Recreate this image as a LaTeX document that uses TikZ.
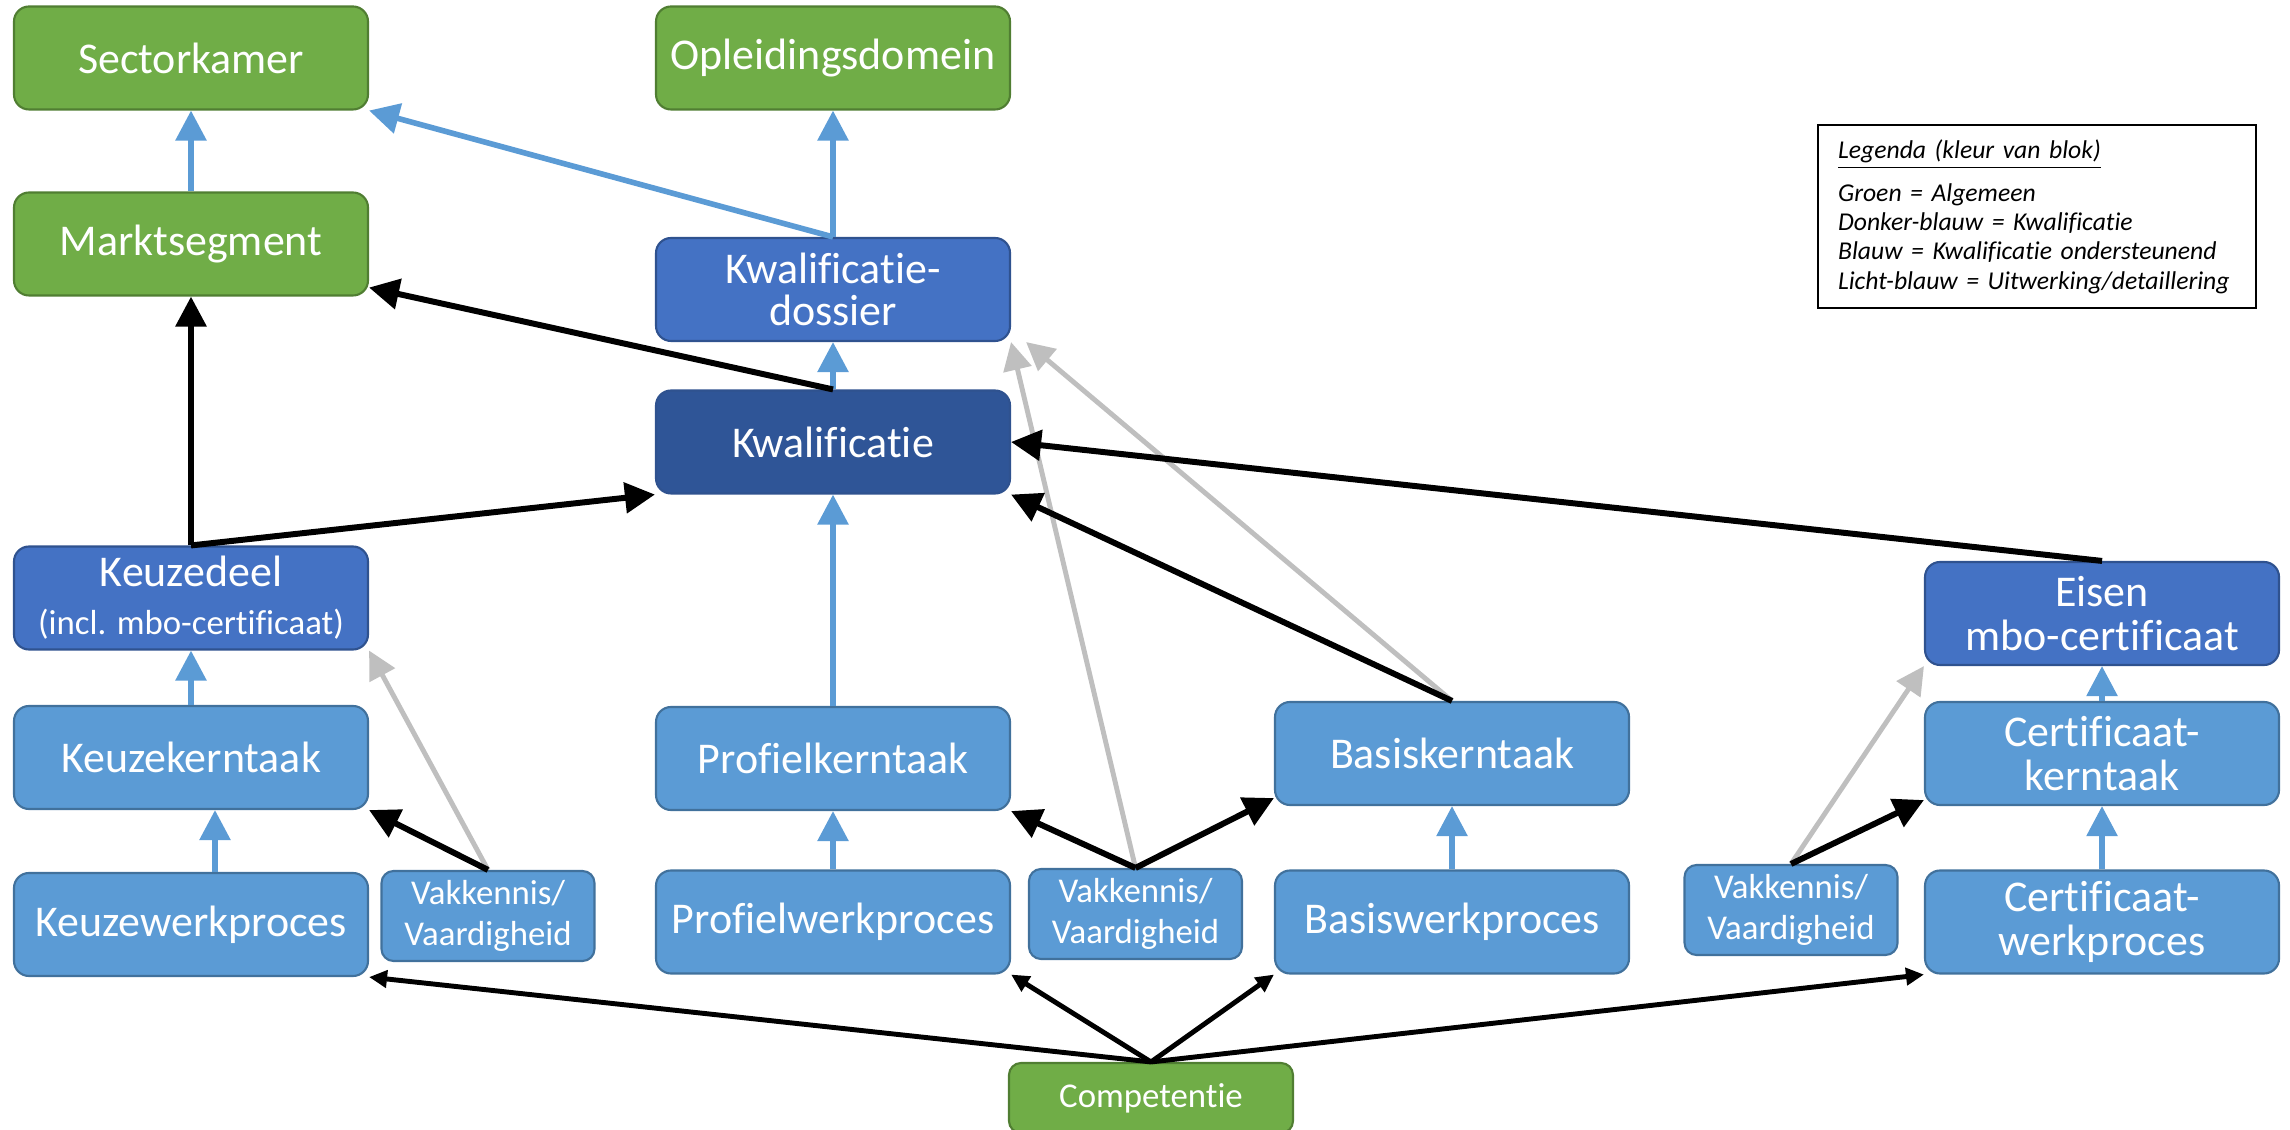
\documentclass[tikz,border=0pt]{standalone}
\usepackage{fontspec}
\setmainfont{Carlito}[Ligatures=CommonOff]
\usepackage{tikz}
\usetikzlibrary{arrows.meta,shapes,positioning}
\definecolor{groenvul}{HTML}{70AD47}
\definecolor{groenrand}{HTML}{507E32}
\definecolor{lichtvul}{HTML}{5B9BD5}
\definecolor{lichtrand}{HTML}{41719C}
\definecolor{middenvul}{HTML}{4472C4}
\definecolor{middenrand}{HTML}{2F528F}
\definecolor{donkervul}{HTML}{2F5597}
\definecolor{donkerrand}{HTML}{2F528F}
\definecolor{pijlblauw}{HTML}{5B9BD5}
\definecolor{pijlgrijs}{HTML}{BFBFBF}

\begin{document}
\begin{tikzpicture}[scale=1,
    blok/.style={rounded corners=0.15cm, line width=0.6pt, text=white, align=center, minimum width=3.54cm, minimum height=1.03cm, inner sep=0pt, font=\fontsize{12.5}{12.5}\selectfont},
    groen/.style={blok, fill=groenvul, draw=groenrand},
    licht/.style={blok, fill=lichtvul, draw=lichtrand},
    midden/.style={blok, fill=middenvul, draw=middenrand},
    donker/.style={blok, fill=donkervul, draw=donkerrand},
    klein/.style={minimum width=2.13cm, minimum height=0.9cm, rounded corners=0.12cm, font=\fontsize{9.9}{11.7}\selectfont},
    pb/.style={draw=pijlblauw, line width=1.6pt, -{Triangle[length=0.3cm,width=0.3cm]}},
    pz/.style={draw=black, line width=1.7pt, -{Triangle[length=0.3cm,width=0.3cm]}},
    pzk/.style={draw=black, line width=1.4pt, -{Triangle[length=0.18cm,width=0.17cm]}},
    pg/.style={draw=pijlgrijs, line width=1.4pt, -{Triangle[length=0.28cm,width=0.28cm]}}]
          \useasboundingbox (0,0) rectangle (22.9,-11.3);
          \node[groen] at (1.91,-0.58) (SK) {Sectorkamer};
          \node[groen] at (8.33,-0.58) (OD) {Opleidingsdomein};
          \node[groen] at (1.91,-2.44) (MS) {Marktsegment};
          \node[midden, font=\fontsize{12.5}{11.8}\selectfont] at (8.33,-2.895) (KD) {Kwalificatie-\\dossier};
          \node[donker] at (8.33,-4.42) (KW) {Kwalificatie};
          \node[midden] at (1.91,-5.98) (KZ) {Keuzedeel\\[1.2pt]{\fontsize{9.9}{11.7}\selectfont (incl. mbo-certificaat)}};
          \node[midden] at (21.02,-6.135) (EI) {Eisen\\mbo-certificaat};
          \node[licht] at (1.91,-7.575) (KKT) {Keuzekerntaak};
          \node[licht] at (8.33,-7.585) (PKT) {Profielkerntaak};
          \node[licht] at (14.52,-7.535) (BKT) {Basiskerntaak};
          \node[licht] at (21.02,-7.535) (CKT) {Certificaat-\\kerntaak};
          \node[licht] at (1.91,-9.245) (KWP) {Keuzewerkproces};
          \node[licht] at (8.33,-9.22) (PWP) {Profielwerkproces};
          \node[licht] at (14.52,-9.22) (BWP) {Basiswerkproces};
          \node[licht] at (21.02,-9.22) (CWP) {Certificaat-\\werkproces};
          \node[licht, klein] at (4.88,-9.16) (VK1) {Vakkennis/\\Vaardigheid};
          \node[licht, klein] at (11.355,-9.14) (VK2) {Vakkennis/\\Vaardigheid};
          \node[licht, klein] at (17.91,-9.10) (VK3) {Vakkennis/\\Vaardigheid};
          \node[groen, klein, minimum width=2.84cm, minimum height=0.7cm] at (11.51,-10.98) (CP) {Competentie};
          \node[draw, line width=0.6pt, anchor=north west, minimum width=4.38cm, minimum height=1.83cm, inner xsep=0.2cm, text width=3.98cm, align=left, font=\fontsize{7.3}{8.3}\selectfont\itshape] at (18.17,-1.24) (LG) {\underline{Legenda (kleur van blok)}\\[3pt]Groen = Algemeen\\Donker-blauw = Kwalificatie\\Blauw = Kwalificatie ondersteunend\\Licht-blauw = Uitwerking/detaillering};
          \draw[pb] (MS.north) -- (SK.south);
          \draw[pb] (KD.north) -- (SK.south east);
          \draw[pb] (KD.north) -- (OD.south);
          \draw[pb] (KW.north) -- (KD.south);
          \draw[pb] (PKT.north) -- (KW.south);
          \draw[pb] (KKT.north) -- (KZ.south);
          \draw[pb] ([xshift=0.24cm]KWP.north) -- ([xshift=0.24cm]KKT.south);
          \draw[pb] (PWP.north) -- (PKT.south);
          \draw[pb] (BWP.north) -- (BKT.south);
          \draw[pb] (CKT.north) -- (EI.south);
          \draw[pb] (CWP.north) -- (CKT.south);
          \draw[pg] (VK1.north) -- (KZ.south east);
          \draw[pg] (VK2.north) -- (KD.south east);
          \draw[pg] (BKT.north) -- ([xshift=0.15cm]KD.south east);
          \draw[pg] (VK3.north) -- (EI.south west);
          \draw[pz] (KZ.north) -- (MS.south);
          \draw[pz] (KZ.north) -- (KW.south west);
          \draw[pz] (KW.north) -- ([yshift=0.09cm]MS.south east);
          \draw[pz] (BKT.north) -- (KW.south east);
          \draw[pz] (EI.north) -- (KW.east);
          \draw[pz] (VK1.north) -- (KKT.south east);
          \draw[pz] (VK2.north) -- (PKT.south east);
          \draw[pz] (VK2.north) -- ([yshift=0.08cm]BKT.south west);
          \draw[pz] (VK3.north) -- ([yshift=0.06cm]CKT.south west);
          \draw[pzk] (CP.north) -- (KWP.south east);
          \draw[pzk] (CP.north) -- (PWP.south east);
          \draw[pzk] (CP.north) -- (BWP.south west);
          \draw[pzk] (CP.north) -- (CWP.south west);
 \end{tikzpicture}
\end{document}
